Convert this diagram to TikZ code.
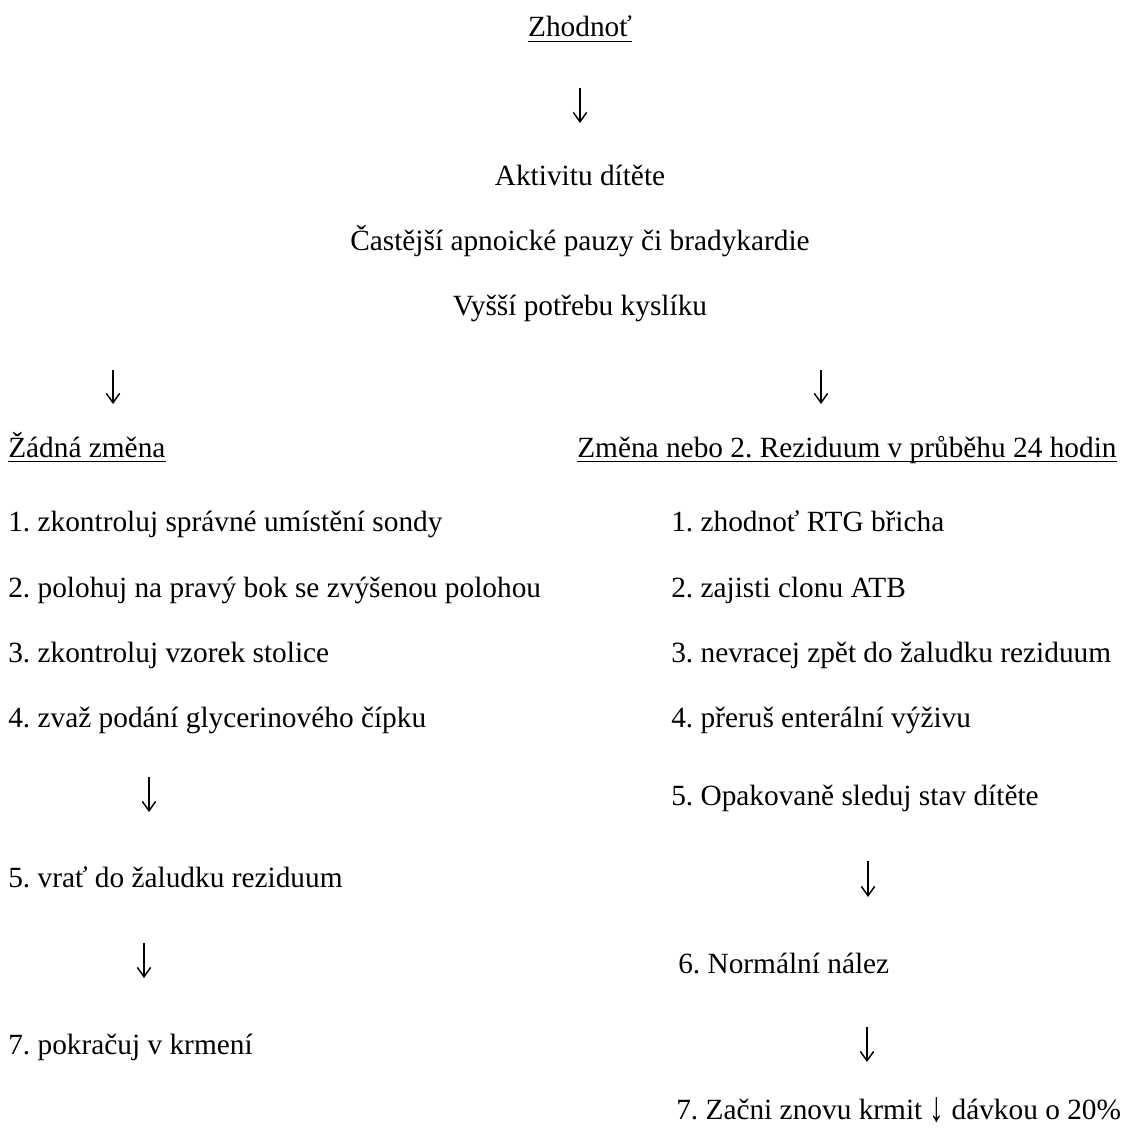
\documentclass[tikz,border=0pt]{standalone}
\usepackage{fontspec}
\setmainfont{Liberation Serif}
\usetikzlibrary{arrows.meta}
\frenchspacing

\begin{document}
\begin{tikzpicture}[x=0.75pt,y=0.75pt,yscale=-1,xscale=1,
    txt/.style={inner sep=0pt,font=\fontsize{22}{26}\selectfont},
    dnarrow/.style={line width=1.1pt,-{Straight Barb[length=7pt,width=10pt,line width=1.1pt]}},
    uline/.style={line width=0.9pt}]
\useasboundingbox (0,0) rectangle (1123,1131);

% Text Node
\draw (580,37) node (zhod) [txt,anchor=base] {Zhodnoť};
% Text Node
\draw (580,185) node (akt) [txt,anchor=base] {Aktivitu dítěte};
% Text Node
\draw (580,250) node (apn) [txt,anchor=base] {Častější apnoické pauzy či bradykardie};
% Text Node
\draw (580,315) node (kysl) [txt,anchor=base] {Vyšší potřebu kyslíku};

% Text Node
\draw (8,457) node (zadna) [txt,anchor=base west] {Žádná změna};
% Text Node
\draw (8,531) node (l1) [txt,anchor=base west] {1. zkontroluj správné umístění sondy};
% Text Node
\draw (8,597) node (l2) [txt,anchor=base west] {2. polohuj na pravý bok se zvýšenou polohou};
% Text Node
\draw (8,662) node (l3) [txt,anchor=base west] {3. zkontroluj vzorek stolice};
% Text Node
\draw (8,727) node (l4) [txt,anchor=base west] {4. zvaž podání glycerinového čípku};
% Text Node
\draw (8,887) node (l5) [txt,anchor=base west] {5. vrať do žaludku reziduum};
% Text Node
\draw (8,1054) node (l7) [txt,anchor=base west] {7. pokračuj v krmení};

% Text Node
\draw (577,457) node (zmena) [txt,anchor=base west] {Změna nebo 2. Reziduum v průběhu 24 hodin};
% Text Node
\draw (671,531) node (r1) [txt,anchor=base west] {1. zhodnoť RTG břicha};
% Text Node
\draw (671,597) node (r2) [txt,anchor=base west] {2. zajisti clonu ATB};
% Text Node
\draw (671,662) node (r3) [txt,anchor=base west] {3. nevracej zpět do žaludku reziduum};
% Text Node
\draw (671,727) node (r4) [txt,anchor=base west] {4. přeruš enterální výživu};
% Text Node
\draw (671,805) node (r5) [txt,anchor=base west] {5. Opakovaně sleduj stav dítěte};
% Text Node
\draw (678,973) node (r6) [txt,anchor=base west] {6. Normální nález};
% Text Node
\draw (676,1119) node (r7) [txt,anchor=base west] {7. Začni znovu krmit \raisebox{-1.5pt}{\scalebox{1}[1.45]{↓}} dávkou o 20\%};

%Underlines
\draw [uline] ([yshift=3.5pt]zhod.base west) -- ([yshift=3.5pt]zhod.base east);
\draw [uline] ([yshift=3.5pt]zadna.base west) -- ([yshift=3.5pt]zadna.base east);
\draw [uline] ([yshift=3.5pt]zmena.base west) -- ([yshift=3.5pt]zmena.base east);

%Straight Lines
\coordinate (a0s) at (580,88);   \coordinate (a0e) at (580,123);
\draw [dnarrow] (a0s) -- (a0e);
%Straight Lines
\coordinate (a1s) at (113,370);  \coordinate (a1e) at (113,404);
\draw [dnarrow] (a1s) -- (a1e);
%Straight Lines
\coordinate (a2s) at (821,370);  \coordinate (a2e) at (821,404);
\draw [dnarrow] (a2s) -- (a2e);
%Straight Lines
\coordinate (a3s) at (149,777);  \coordinate (a3e) at (149,812);
\draw [dnarrow] (a3s) -- (a3e);
%Straight Lines
\coordinate (a4s) at (144,943);  \coordinate (a4e) at (144,978);
\draw [dnarrow] (a4s) -- (a4e);
%Straight Lines
\coordinate (a5s) at (868,861);  \coordinate (a5e) at (868,897);
\draw [dnarrow] (a5s) -- (a5e);
%Straight Lines
\coordinate (a6s) at (867,1027); \coordinate (a6e) at (867,1062);
\draw [dnarrow] (a6s) -- (a6e);

\end{tikzpicture}
\end{document}
